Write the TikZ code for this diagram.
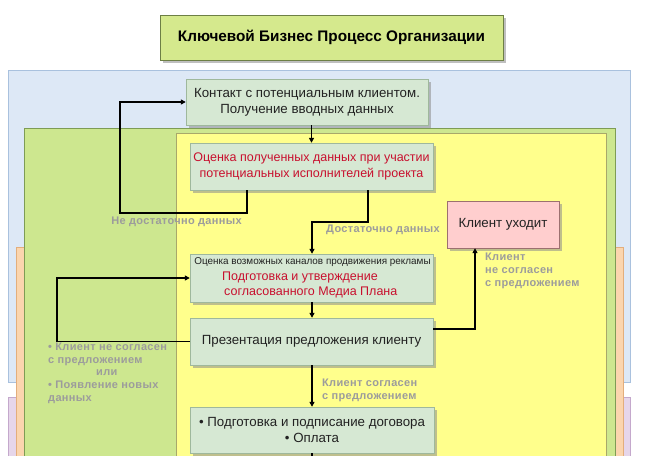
\documentclass[tikz,border=0pt]{standalone}
\usepackage{fontspec}
\setmainfont{Liberation Sans}
\usetikzlibrary{shadows,arrows.meta}
\definecolor{bgblue}{HTML}{DDE8F6}
\definecolor{bgblueb}{HTML}{A9C1DE}
\definecolor{bgpurple}{HTML}{E6D6EA}
\definecolor{bgpurpleb}{HTML}{C4A8CC}
\definecolor{bgorange}{HTML}{FBD5AE}
\definecolor{bgorangeb}{HTML}{E3AE7C}
\definecolor{bggreen}{HTML}{CDE78F}
\definecolor{bggreenb}{HTML}{7E9C55}
\definecolor{bgyellow}{HTML}{FFFF8C}
\definecolor{bgyellowb}{HTML}{A8A86A}
\definecolor{nodefill}{HTML}{D6E8D3}
\definecolor{nodeborder}{HTML}{9FB89C}
\definecolor{titlefill}{HTML}{D5E98D}
\definecolor{titleborder}{HTML}{6D7F45}
\definecolor{pinkfill}{HTML}{FFCECE}
\definecolor{pinkborder}{HTML}{9C7070}
\definecolor{redtext}{HTML}{C8102E}
\definecolor{textc}{HTML}{222222}
\definecolor{labgray}{HTML}{9C9C9C}
\begin{document}
\begin{tikzpicture}[x=1pt,y=-1pt,
  shade/.style={drop shadow={shadow xshift=2.5pt,shadow yshift=-2.5pt,fill=black!45,opacity=.55}},
  proc/.style={draw=nodeborder,fill=nodefill,shade,inner sep=0pt,align=center,
    text=textc,font=\fontsize{13.3}{16}\selectfont},
  redproc/.style={proc,text=redtext,font=\fontsize{12.5}{15.5}\selectfont},
  plain/.style={inner sep=0pt,align=center},
  lab/.style={inner sep=0pt,text=labgray,font=\fontsize{11}{12.8}\selectfont\bfseries\addfontfeature{LetterSpace=3}},
  arr/.style={line width=1.6pt,-{Triangle[length=5pt,width=5pt]}},
  line/.style={line width=1.6pt}]
\useasboundingbox (0,0) rectangle (666,455);
\clip (0,0) rectangle (666,455);
\fill[white] (0,0) rectangle (666,455);
% background zones
\draw[fill=bgblue,draw=bgblueb] (8,70) rectangle (630,382);
\draw[fill=bgpurple,draw=bgpurpleb] (8,397) rectangle (630,480);
\draw[fill=bgorange,draw=bgorangeb] (16,247) rectangle (623,480);
\draw[fill=bggreen,draw=bggreenb] (24,128) rectangle (615,480);
\draw[fill=bgyellow,draw=bgyellowb] (176,133) rectangle (606,480);
% title
\node[draw=titleborder,fill=titlefill,shade,minimum width=343pt,minimum height=45pt,
  font=\fontsize{15.3}{18}\selectfont\bfseries,text=black] (title) at (331.5,37.5)
  {Ключевой Бизнес Процесс Организации};
% process nodes
\node[proc,minimum width=242pt,minimum height=46pt] (c1) at (307,102)
  {Контакт с потенциальным клиентом.\\Получение вводных данных};
\node[redproc,minimum width=243pt,minimum height=47pt] (c2) at (311.5,166.5)
  {Оценка полученных данных при участии\\потенциальных исполнителей проекта};
\node[proc,draw=pinkborder,fill=pinkfill,minimum width=112pt,minimum height=47pt] (cu) at (503,224.5)
  {Клиент уходит};
\node[proc,minimum width=243pt,minimum height=48pt] (c4) at (311.5,278) {};
\node[plain,text=textc,font=\fontsize{9.9}{12}\selectfont] (c4a) at (312.5,262)
  {Оценка возможных каналов продвижения рекламы};
\node[plain,anchor=west,align=left,text=redtext,font=\fontsize{12.5}{15}\selectfont] (c4b) at (222,285)
  {Подготовка и утверждение\\\hspace*{2pt}согласованного Медиа Плана};
\node[proc,minimum width=243pt,minimum height=47pt] (c5) at (311.5,341.5)
  {Презентация предложения клиенту};
\node[proc,minimum width=244pt,minimum height=46pt] (c6) at (312,430)
  {• Подготовка и подписание договора\\• Оплата};
% helper coordinates
\coordinate (nd) at (120,213);
\coordinate (dd) at (312,222);
\coordinate (lp) at (57,278);
\coordinate (c6end) at (312,480);
% connectors
\draw[arr] (c1.south -| c2.north) -- (c2.north);
\draw[arr] ([xshift=-64.5pt]c2.south) |- (nd) |- (c1.west);
\draw[arr] ([xshift=56.5pt]c2.south) |- (dd) -- (c4.north -| dd);
\draw[arr] (c4.south -| dd) -- (c5.north -| dd);
\draw[arr] (c5.west) -| (lp) -- (c4.west);
\draw[arr] ([yshift=12.5pt]c5.east) -| ([xshift=-28pt]cu.south);
\draw[arr] (c5.south -| dd) -- (c6.north -| dd);
\draw[line] (c6.south -| dd) -- (c6end);
% labels
\node[lab] (ndlab) at (176.5,222) {Не достаточно данных};
\node[lab] (ddlab) at (383,230) {Достаточно данных};
\node[lab,anchor=north west,align=left] (culab) at (485,253)
  {Клиент\\не согласен\\с предложением};
\node[lab,anchor=west,align=left] (aglab) at (322,390.5)
  {Клиент согласен\\с предложением};
\node[lab,anchor=north west,align=left] (lflab) at (48,342.5)
  {• Клиент не согласен\\с предложением\\\hspace*{48pt}или\\• Появление новых\\данных};
\end{tikzpicture}
\end{document}
